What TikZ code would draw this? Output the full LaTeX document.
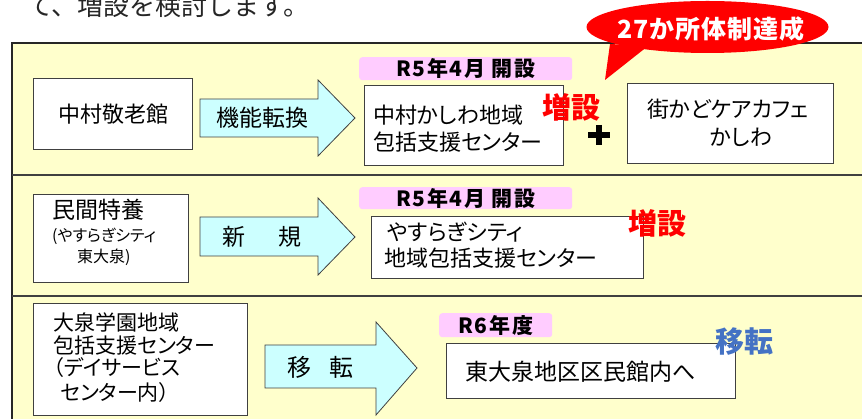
\documentclass[tikz,border=0pt]{standalone}
\usepackage{fontspec}
\setmainfont{Noto Sans CJK JP}[RawFeature={+palt}]
\newfontfamily\jpfull{Noto Sans CJK JP}
\definecolor{tblyellow}{HTML}{FFFFCC}
\definecolor{lblpink}{HTML}{FFCCFF}
\definecolor{arrcyan}{HTML}{CCFFFF}
\definecolor{bubred}{HTML}{FF0000}
\definecolor{movblue}{HTML}{4472C4}
\definecolor{linegray}{HTML}{404040}
\newcommand{\fs}[1]{\fontsize{#1}{#1}\selectfont}
\newcommand{\fsl}[2]{\fontsize{#1}{#2}\selectfont}
\begin{document}
\begin{tikzpicture}[x=1pt,y=-1pt,
  wbox/.style={draw=linegray, line width=1.2pt, fill=white, inner sep=0pt, anchor=north west},
  plabel/.style={fill=lblpink, rounded corners=3pt, inner sep=0pt, anchor=north west},
  txt/.style={inner sep=0pt, font=\fs{22}},
  btxt/.style={inner sep=0pt, font={\jpfull\fs{21}\bfseries\addfontfeature{LetterSpace=8}}},
  blockarrow/.style={draw=linegray, line width=0.8pt, fill=arrcyan, line join=miter},
  sep/.style={draw=linegray, line width=1.8pt}
]
\useasboundingbox (0,0) rectangle (862,419);
\clip (0,0) rectangle (862,419);

% heading text (cut off)
\node[anchor=base west, inner sep=0pt, font=\jpfull\fs{26}, text=black!85] (head) at (27,16) {て、増設を検討します。};

% table
\fill[tblyellow] (12,43) rectangle (880,440);
\draw[black!85, line width=2.2pt] (880,43) -- (12,43) -- (12,440);
\draw[sep] (12,175) -- (880,175);
\draw[sep] (12,296) -- (880,296);

% ---------- Row 1 ----------
\node[wbox, minimum width=159pt, minimum height=71pt] (b1) at (33,78) {};
\node[txt] (t1) at (b1.center) {中村敬老館};

\draw[blockarrow] (200,99) -- (318,99) -- (318,80) -- (355,118) -- (318,156) -- (318,137) -- (200,137) -- cycle;
\node[txt, font=\fs{23}] (a1) at (262,118) {機能転換};

\node[plabel, minimum width=213pt, minimum height=23pt] (l1) at (359,57) {};
\node[btxt] (l1t) at (l1.center) {R5年4月 開設};

\node[wbox, minimum width=199pt, minimum height=80pt] (b2) at (364,85) {};
\node[txt, anchor=west, align=left, font={\fsl{22}{27}}] (t2) at (373,129) {中村かしわ地域\\包括支援センター};

\node[inner sep=0pt, font=\fs{29}\bfseries, text=bubred] (z1) at (571,107) {増設};
\draw[black, line width=5.5pt] (588,135) -- (610,135);
\draw[black, line width=5.5pt] (599,125) -- (599,145);

\node[wbox, minimum width=206pt, minimum height=80pt] (b3) at (627,83) {};
\node[txt, anchor=west] (t3a) at (647,109) {街かどケアカフェ};
\node[txt, anchor=west] (t3b) at (710,137) {かしわ};

% speech bubble
\fill[bubred] (707.5,27) ellipse [x radius=121, y radius=26];
\fill[bubred] (610,44) -- (605,80) -- (648,46) -- cycle;
\node[inner sep=0pt, font={\jpfull\fs{25}\bfseries\addfontfeature{LetterSpace=4}}, text=white] (bub) at (711,29) {27か所体制達成};

% ---------- Row 2 ----------
\node[wbox, minimum width=155pt, minimum height=88pt] (b4) at (33,194) {};
\node[txt, anchor=west, font=\fs{23}] (t4a) at (52,210) {民間特養};
\node[txt, anchor=west, font=\fs{16}] (t4b) at (52,236) {(やすらぎシティ};
\node[txt, anchor=west, font=\fs{16}] (t4c) at (77,257) {東大泉)};

\draw[blockarrow] (200,217) -- (318,217) -- (318,198) -- (355,237) -- (318,275) -- (318,256) -- (200,256) -- cycle;
\node[txt, font=\fs{23}] (a2) at (262,237) {新\hspace{34pt}規};

\node[plabel, minimum width=213pt, minimum height=22pt] (l2) at (359,187) {};
\node[btxt] (l2t) at (l2.center) {R5年4月 開設};

\node[wbox, minimum width=272pt, minimum height=62pt] (b5) at (371,216) {};
\node[txt, anchor=west] (t5a) at (387,232) {やすらぎシティ};
\node[txt, anchor=west] (t5b) at (384,258) {地域包括支援センター};

\node[inner sep=0pt, font=\fs{29}\bfseries, text=bubred] (z2) at (657,223) {増設};

% ---------- Row 3 ----------
\node[wbox, minimum width=214pt, minimum height=112pt] (b6) at (33,303) {};
\node[txt, anchor=west, font=\fs{21}] (t6a) at (53,322) {大泉学園地域};
\node[txt, anchor=west, font=\fs{21}] (t6b) at (53,345) {包括支援センター};
\node[txt, anchor=west, font=\fs{21}] (t6c) at (53,368) {（デイサービス};
\node[txt, anchor=west, font=\fs{21}] (t6d) at (60,393) {センター内）};

\draw[blockarrow] (265,345) -- (376,345) -- (376,322) -- (417,368) -- (376,415) -- (376,388) -- (265,388) -- cycle;
\node[txt, font=\fs{24}] (a3) at (320,367) {移\hspace{18pt}転};

\node[plabel, minimum width=113pt, minimum height=24pt] (l3) at (439,313) {};
\node[btxt] (l3t) at (l3.center) {R6年度};

\node[wbox, minimum width=289pt, minimum height=55pt] (b7) at (446,343) {};
\node[txt, anchor=west, font=\fs{23}] (t7) at (465,372) {東大泉地区区民館内へ};

\node[inner sep=0pt, font=\fs{29}\bfseries, text=movblue] (m1) at (744,342) {移転};
\end{tikzpicture}
\end{document}
